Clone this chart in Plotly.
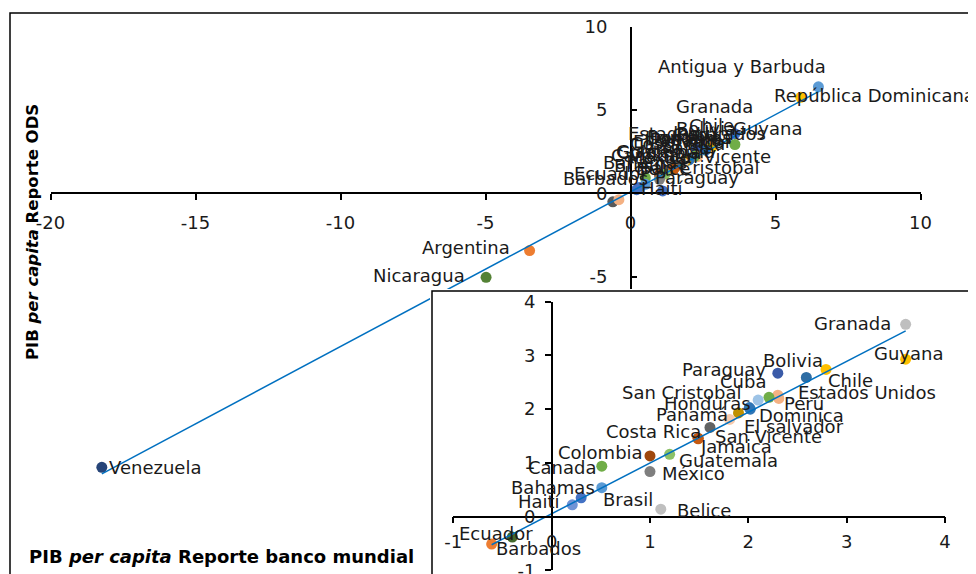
import numpy as np
import plotly.graph_objects as go

# ---------------- data ----------------
countries = ["Antigua y Barbuda", "República Dominicana", "Granada", "Guyana", "Chile",
             "Paraguay", "Bolivia", "Estados Unidos", "Perú", "Cuba", "San Cristobal",
             "Honduras", "Dominica", "Panamá", "El salvador", "Costa Rica", "San Vicente",
             "Jamaica", "Colombia", "Guatemala", "Canada", "México", "Bahamas", "Brasil",
             "Haití", "Belice", "Ecuador", "Barbados", "Argentina", "Nicaragua", "Venezuela"]
pib_banco_mundial = [6.48, 5.87, 3.60, 3.60, 2.79, 2.30, 2.59, 2.30, 2.31, 2.21, 2.10,
                     2.01, 2.02, 1.90, 1.81, 1.61, 1.49, 1.49, 1.00, 1.20, 0.51, 1.00,
                     0.51, 0.30, 0.21, 1.11, -0.61, -0.40, -3.48, -4.98, -18.23]
pib_ods = [6.39, 5.76, 3.58, 2.93, 2.74, 2.67, 2.59, 2.26, 2.20, 2.22, 2.17,
           2.03, 2.00, 1.93, 1.81, 1.66, 1.46, 1.45, 1.13, 1.16, 0.94, 0.84,
           0.54, 0.35, 0.22, 0.14, -0.51, -0.38, -3.44, -5.04, -16.45]

main_ticks = [-20, -15, -10, -5, 0, 5, 10]
inset_ticks = [-1, 0, 1, 2, 3, 4]
x_title = "<b>PIB <i>per capita</i> Reporte banco mundial</b>"
y_title = "<b>PIB <i>per capita</i> Reporte ODS</b>"

# ---------------- styles ----------------
inset_colors = {
    "Granada": "#BFBFBF", "Guyana": "#FFC000", "Chile": "#FFC000", "Paraguay": "#3A5BA8",
    "Bolivia": "#2E6DA4", "Estados Unidos": "#F4B183", "Perú": "#F4B183", "Cuba": "#70AD47",
    "San Cristobal": "#9DC3E6", "Honduras": "#2E75B6", "Dominica": "#2E75B6", "Panamá": "#BF9000",
    "El salvador": "#F8CBAD", "Costa Rica": "#636363", "San Vicente": "#C55A11",
    "Jamaica": "#C55A11", "Colombia": "#9E480E", "Guatemala": "#8CC168", "Canada": "#70AD47",
    "México": "#7F7F7F", "Bahamas": "#5B9BD5", "Brasil": "#4472C4", "Haití": "#6F93D6",
    "Belice": "#BFBFBF", "Ecuador": "#ED7D31", "Barbados": "#43682B",
}
main_colors = dict(inset_colors)
main_colors.update({
    "Antigua y Barbuda": "#5B9BD5", "República Dominicana": "#FFC000", "Argentina": "#ED7D31",
    "Nicaragua": "#548235", "Venezuela": "#264478", "Granada": "#4472C4", "Guyana": "#70AD47",
    "Belice": "#4472C4", "Haití": "#4472C4", "Ecuador": "#595959", "Barbados": "#F4B183",
})

# label placement (anchor, dx px, dy px up)
inset_label_style = {
    "Granada": ("r", -13, 1), "Guyana": ("c", 3, 6), "Chile": ("l", 0, -11),
    "Paraguay": ("r", -10, 4), "Bolivia": ("c", -13, 17), "Estados Unidos": ("l", 18, 3),
    "Perú": ("l", 3, -5), "Cuba": ("r", -1, 16), "San Cristobal": ("r", -15, 8),
    "Honduras": ("r", 4, 4), "Dominica": ("l", 7, -6), "Panamá": ("r", -8, -2),
    "El salvador": ("l", 12, -7), "Costa Rica": ("r", -7, -4), "San Vicente": ("l", 15, 2),
    "Jamaica": ("l", 0, -8), "Colombia": ("r", -5, 3), "Guatemala": ("l", 7, -6),
    "Canada": ("r", -3, -1), "México": ("l", 10, -2), "Bahamas": ("r", -5, 0),
    "Brasil": ("l", 20, -2), "Haití": ("r", -9, 3), "Belice": ("l", 14, -1),
    "Ecuador": ("c", 4, 11), "Barbados": ("l", -18, -11),
}
main_label_style = {
    "Antigua y Barbuda": ("c", -76, 20), "República Dominicana": ("l", -29, 2),
    "Argentina": ("r", -18, 3), "Nicaragua": ("r", -19, 2), "Venezuela": ("l", 5, 0),
    "Granada": ("c", -20, 27), "Guyana": ("c", 33, 16), "Paraguay": ("c", 0, -29),
    "San Cristobal": ("r", 70, -10), "San Vicente": ("r", 99, 12),
    "Ecuador": ("c", -2, 28), "Barbados": ("c", -13, 21), "Haití": ("l", 2, 1),
}
default_main_label = ("c", 0, 22)
anchor_map = {"l": "left", "r": "right", "c": "center"}

FONT = "DejaVu Sans"
TXT = "#1a1a1a"
LINE_C = "#0070C0"
LABEL_SIZE = 18
W, H = 976, 574
OFF = 8  # page body margin


def fx(px):
    return (px - OFF) / W


def fy(py):
    return 1 - (py - OFF) / H


x = np.array(pib_banco_mundial)
y = np.array(pib_ods)

fig = go.Figure()

# ---------------- main chart ----------------
fig.add_trace(go.Scatter(
    x=x, y=y, mode="markers", xaxis="x", yaxis="y",
    marker=dict(size=11, color=[main_colors[c] for c in countries]),
    hoverinfo="skip", showlegend=False))
b1, b0 = np.polyfit(x, y, 1)
xl = np.array([x.min(), x.max()])
fig.add_trace(go.Scatter(x=xl, y=b0 + b1 * xl, mode="lines", xaxis="x", yaxis="y",
                         line=dict(color=LINE_C, width=1.5), hoverinfo="skip", showlegend=False))

# ---------------- inset box (background) ----------------
fig.add_trace(go.Scatter(x=[None], y=[None], xaxis="x2", yaxis="y2", showlegend=False))

# ---------------- inset chart ----------------
inset_idx = [i for i in range(len(countries))
             if inset_ticks[0] <= x[i] <= inset_ticks[-1] and inset_ticks[0] <= y[i] <= inset_ticks[-1]]
xi, yi = x[inset_idx], y[inset_idx]
fig.add_trace(go.Scatter(
    x=xi, y=yi, mode="markers", xaxis="x3", yaxis="y3",
    marker=dict(size=11, color=[inset_colors[countries[i]] for i in inset_idx]),
    hoverinfo="skip", showlegend=False))
c1, c0 = np.polyfit(xi, yi, 1)
xl2 = np.array([xi.min(), xi.max()])
fig.add_trace(go.Scatter(x=xl2, y=c0 + c1 * xl2, mode="lines", xaxis="x3", yaxis="y3",
                         line=dict(color=LINE_C, width=1.5), hoverinfo="skip", showlegend=False))

# ---------------- labels ----------------
ann = []
for i, c in enumerate(countries):
    a, dx, dy = main_label_style.get(c, default_main_label)
    ann.append(dict(x=x[i], y=y[i], xref="x", yref="y", text=c, showarrow=False,
                    xanchor=anchor_map[a], yanchor="middle", xshift=dx, yshift=dy,
                    font=dict(family=FONT, size=LABEL_SIZE, color=TXT)))
for i in inset_idx:
    c = countries[i]
    a, dx, dy = inset_label_style[c]
    ann.append(dict(x=x[i], y=y[i], xref="x3", yref="y3", text=c, showarrow=False,
                    xanchor=anchor_map[a], yanchor="middle", xshift=dx, yshift=dy,
                    font=dict(family=FONT, size=LABEL_SIZE, color=TXT)))
ann.append(dict(x=fx(221), y=fy(556), xref="paper", yref="paper", text=x_title,
                showarrow=False, xanchor="center", yanchor="middle",
                font=dict(family=FONT, size=18, color="#000")))
ann.append(dict(x=fx(32), y=fy(232), xref="paper", yref="paper", text=y_title,
                showarrow=False, xanchor="center", yanchor="middle", textangle=-90,
                font=dict(family=FONT, size=16.5, color="#000")))


def ticktext(v):
    return [str(t) for t in v]


tickfont = dict(family=FONT, size=18, color=TXT)
common = dict(showgrid=False, zeroline=False, showline=True, linecolor="#000", linewidth=1.5,
              tickcolor="#000", tickwidth=1.5, ticklen=6, tickfont=tickfont, anchor="free",
              automargin=False)

px_per_y_main = (193.3 - 26.7) / 10.0
main_ymin = 10 - ((H + OFF) - 26.7) / px_per_y_main

fig.update_layout(
    template="none",
    width=W, height=H, margin=dict(l=0, r=0, t=0, b=0, pad=0), autosize=False,
    paper_bgcolor="white", plot_bgcolor="white", showlegend=False,
    xaxis=dict(domain=[fx(50.5), fx(920.5)], range=[-20, 10], position=fy(193.3),
               ticks="outside", tickvals=main_ticks, ticktext=ticktext(main_ticks),
               ticklabelstandoff=7, **common),
    yaxis=dict(domain=[0, fy(26.7)], range=[main_ymin, 10], position=fx(630.7),
               ticks="inside", tickvals=main_ticks, ticktext=ticktext(main_ticks),
               ticklabelstandoff=19, **common),
    xaxis2=dict(domain=[fx(430), 1], range=[0, 1], visible=False, anchor="y2", automargin=False),
    yaxis2=dict(domain=[0, fy(289)], range=[0, 1], visible=False, anchor="x2", automargin=False),
    xaxis3=dict(domain=[fx(453.3), fx(945)], range=[-1, 4], position=fy(516.7),
                ticks="outside", tickvals=inset_ticks, ticktext=ticktext(inset_ticks),
                ticklabelstandoff=3, **common),
    yaxis3=dict(domain=[fy(570.4), fy(301.7)], range=[-1, 4], position=fx(551.7),
                ticks="outside", tickvals=inset_ticks, ticktext=ticktext(inset_ticks),
                ticklabelstandoff=6, **common),
    annotations=ann,
    shapes=[
        # outer chart frame
        dict(type="rect", xref="paper", yref="paper", x0=fx(10), x1=1.05, y0=-0.05, y1=fy(13),
             line=dict(color="#000", width=1.5), fillcolor="rgba(0,0,0,0)", layer="below"),
        # inset frame
        dict(type="rect", xref="x2", yref="y2", x0=2 / (W + OFF - 430), x1=1.2, y0=-0.2,
             y1=1 - 2 / (H + OFF - 289),
             line=dict(color="#000", width=1.5), fillcolor="white", layer="below"),
    ],
)

fig.write_html("out.html")
